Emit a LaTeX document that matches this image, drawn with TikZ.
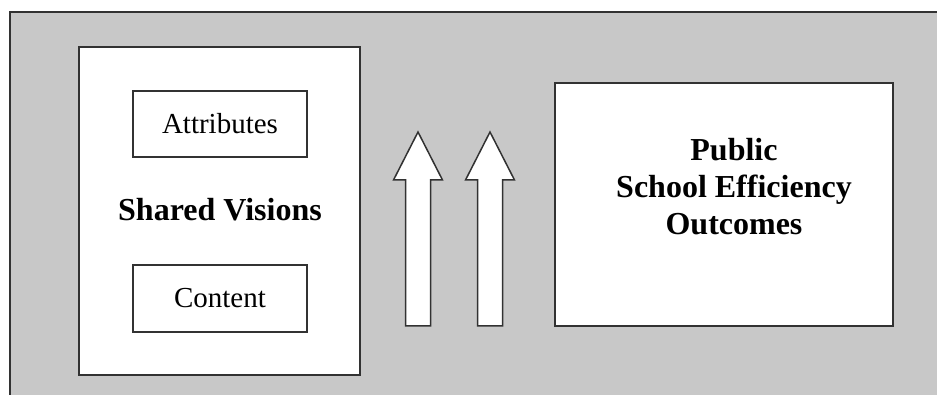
\documentclass[tikz,border=0pt]{standalone}
\usepackage{fontspec}
\setmainfont{Liberation Serif}
\usepackage{tikz}
\usetikzlibrary{calc}
\definecolor{panel}{RGB}{200,200,200}
\definecolor{edge}{RGB}{50,50,50}
\newcommand{\bigbf}{\fontsize{32}{37}\selectfont\bfseries}
\newcommand{\plain}{\fontsize{29}{34}\selectfont}

\begin{document}
\begin{tikzpicture}[x=1pt,y=-1pt,
	box/.style={draw=edge, line width=1.8pt, fill=white, inner sep=0pt},
	uparrow/.style={draw=edge, line width=1.5pt, fill=white, line join=miter}]
	\useasboundingbox (0,0) rectangle (937,395);
	\fill[panel] (10,12) rectangle (937,395);
	\draw[edge, line width=2pt] (937,12) -- (10,12) -- (10,395);
	
	\node[box, minimum width=281pt, minimum height=328pt] (vis) at (219.5,211) {};
	\node[box, font=\plain, minimum width=174pt, minimum height=66pt] (att) at (220,124) {Attributes};
	\node[box, font=\plain, minimum width=174pt, minimum height=67pt] (con) at (220,298.5) {Content};
	\node[font=\bigbf] (vislbl) at (220,210) {Shared Visions};
	
	\node[box, minimum width=338pt, minimum height=243pt] (out) at (724,204.5) {};
	\node[font=\bigbf, align=center, inner sep=0pt] (outlbl) at (734,187) {Public\\School Efficiency\\Outcomes};
	
	\foreach \cx in {418,490}
		\draw[uparrow] (\cx-12.5,326) -- (\cx-12.5,180) -- (\cx-24.5,180) -- (\cx,132)
			-- (\cx+24.5,180) -- (\cx+12.5,180) -- (\cx+12.5,326) -- cycle;
\end{tikzpicture}
\end{document}
